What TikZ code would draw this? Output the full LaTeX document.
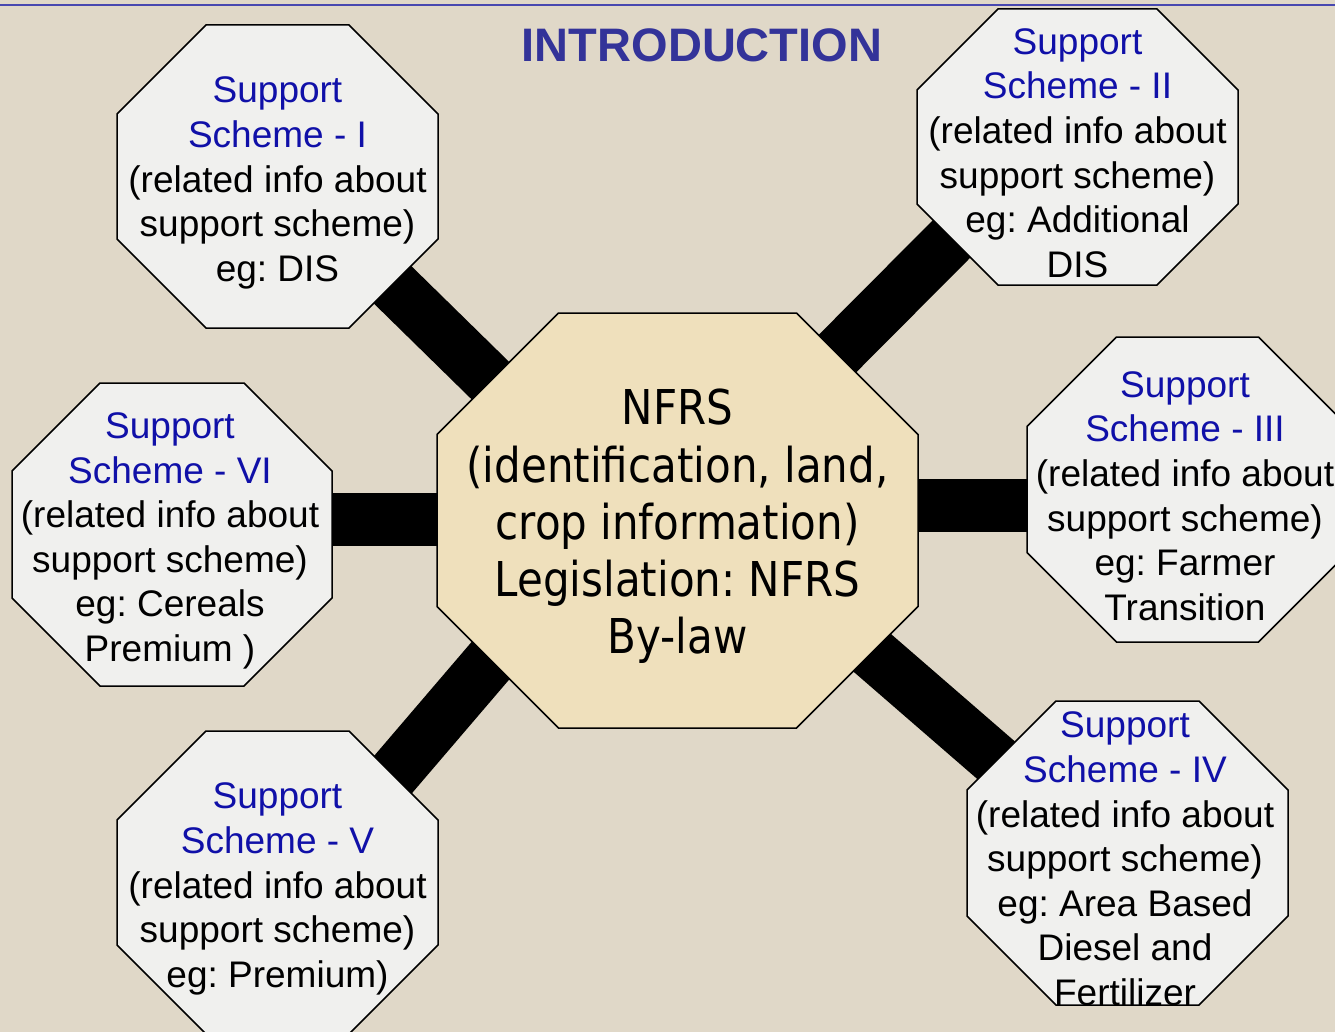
\documentclass[tikz,border=0pt]{standalone}
\usepackage{fontspec}
\setmainfont{Liberation Sans}
\newfontfamily\tahfont[FakeStretch=0.875]{DejaVu Sans}
\frenchspacing
\definecolor{bgc}{HTML}{E0D8C8}
\definecolor{satfill}{HTML}{F0F0EE}
\definecolor{ctrfill}{HTML}{EFE0BC}
\definecolor{sblue}{HTML}{1010A8}
\definecolor{titleblue}{HTML}{333399}
\definecolor{lineblue}{HTML}{4848B0}
\pgfdeclarelayer{bg}
\pgfdeclarelayer{bars}
\pgfdeclarelayer{octs}
\pgfsetlayers{bg,bars,octs,main}
\tikzset{
  satoct/.style={fill=satfill, draw=black, line width=1.5pt, line join=miter},
  ctroct/.style={fill=ctrfill, draw=black, line width=1.5pt, line join=miter},
  sattext/.style={align=center, inner sep=0pt, font=\fontsize{37}{44.6}\selectfont},
  ctrtext/.style={align=center, inner sep=0pt, font=\tahfont\fontsize{48}{57.3}\selectfont},
  titletext/.style={inner sep=0pt, text=titleblue, font=\bfseries\fontsize{47}{56}\selectfont},
  barline/.style={draw=black, line width=53pt},
  topline/.style={draw=lineblue, line width=2.5pt}
}
% style, cx, cy, w, h, cut
\newcommand\octpath[6]{%
  \path[#1] ({#2-#4/2+#6},{#3-#5/2}) -- ({#2+#4/2-#6},{#3-#5/2})
    -- ({#2+#4/2},{#3-#5/2+#6}) -- ({#2+#4/2},{#3+#5/2-#6})
    -- ({#2+#4/2-#6},{#3+#5/2}) -- ({#2-#4/2+#6},{#3+#5/2})
    -- ({#2-#4/2},{#3+#5/2-#6}) -- ({#2-#4/2},{#3-#5/2+#6}) -- cycle;}
\newcommand\schhead[1]{\textcolor{sblue}{Support}\\\textcolor{sblue}{Scheme - #1}}
\begin{document}
\begin{tikzpicture}[x=1pt, y=-1pt]
\useasboundingbox (0,0) rectangle (1335,1032);
\begin{pgfonlayer}{bg}
  \fill[bgc] (0,0) rectangle (1335,1032);
  \draw[topline] (0,5) -- (1335,5);
\end{pgfonlayer}

\node[titletext] (title) at (702,45) {INTRODUCTION};

\node[ctrtext] (c) at (677.5,526.5) {NFRS\\(identification, land,\\crop information)\\Legislation: NFRS\\By-law};
\node[sattext] (s1) at (277.5,183) {\schhead{I}\\(related info about\\support scheme)\\eg: DIS};
\node[sattext] (s2) at (1077.5,153) {\schhead{II}\\(related info about\\support scheme)\\eg: Additional\\DIS};
\node[sattext] (s3) at (1185,496) {\schhead{III}\\(related info about\\support scheme)\\eg: Farmer\\Transition};
\node[sattext] (s4) at (1125,859) {\schhead{IV}\\(related info about\\support scheme)\\eg: Area Based\\Diesel and\\Fertilizer};
\node[sattext] (s5) at (277.5,889) {\schhead{V}\\(related info about\\support scheme)\\eg: Premium)};
\node[sattext] (s6) at (170,541) {\schhead{VI}\\(related info about\\support scheme)\\eg: Cereals\\Premium )};

\begin{pgfonlayer}{octs}
  \octpath{ctroct}{677.5}{520.5}{481}{415}{121.5}
  \octpath{satoct}{277.5}{176.5}{321}{303}{89}
  \octpath{satoct}{1077.5}{147}{321}{276}{81}
  \octpath{satoct}{1187.5}{489.5}{321}{305}{89.5}
  \octpath{satoct}{1127.5}{853}{321}{304}{89}
  \octpath{satoct}{277.5}{882.5}{321}{303}{89}
  \octpath{satoct}{172}{534.5}{320}{303}{88}
\end{pgfonlayer}

\begin{pgfonlayer}{bars}
  \draw[barline] ([yshift=11pt]s1.center) -- ([yshift=-37.5pt]c.center);
  \draw[barline] ([yshift=12.2pt]c.center) -- ([yshift=40.6pt]s2.center);
  \draw[barline] ([yshift=21.5pt]c.center) -- ([yshift=-9pt]s3.center);
  \draw[barline] ([yshift=42.5pt]c.center) -- ([yshift=-13pt]s4.center);
  \draw[barline] ([yshift=84.5pt]c.center) -- ([yshift=-20.6pt]s5.center);
  \draw[barline] ([yshift=7.5pt]c.center) -- ([yshift=22pt]s6.center);
\end{pgfonlayer}
\end{tikzpicture}
\end{document}
